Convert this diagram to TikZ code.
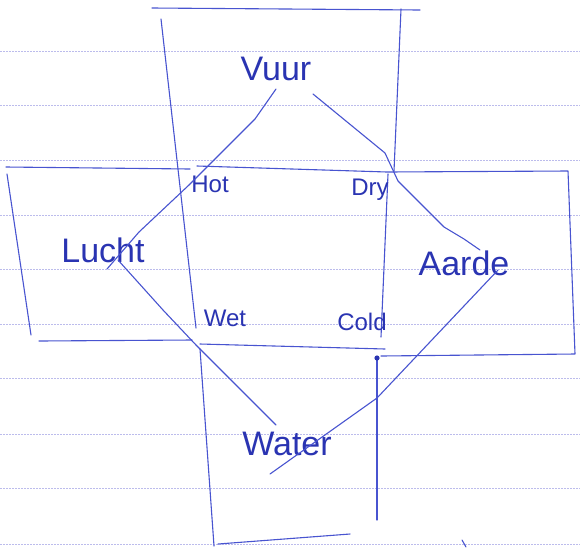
\documentclass[tikz,border=0pt]{standalone}
\usepackage{fontspec}
\setmainfont{Liberation Sans}
\definecolor{ink}{RGB}{72,84,208}
\definecolor{inkdark}{RGB}{42,52,178}
\definecolor{rulecol}{RGB}{188,188,236}
\begin{document}
\begin{tikzpicture}[x=1pt,y=-1pt,
  pen/.style={draw=ink,line width=1.1pt,line cap=round,line join=round},
  big/.style={text=inkdark,inner sep=0pt,anchor=base,font=\fontsize{34}{36}\selectfont},
  small/.style={text=inkdark,inner sep=0pt,anchor=base,font=\fontsize{24}{26}\selectfont},
  ruling/.style={draw=rulecol,line width=0.8pt,dash pattern=on 2pt off 1pt}]
\useasboundingbox (0,0) rectangle (580,547);
\fill[white] (0,0) rectangle (580,547);
% ruled paper
\foreach \yy in {51,105,160,215,269,324,378,434,488,544}
  \draw[ruling] (0,\yy) -- (580,\yy);
% boxes (hand-drawn cross)
\draw[pen] (152,8) -- (420,10);
\draw[pen] (161,19) -- (196,328);
\draw[pen] (401,9) -- (394,171);
\draw[pen] (6,167) -- (190,169);
\draw[pen] (197,166) -- (387,172) -- (568,171) -- (575,354) -- (381,356);
\draw[pen] (7,174) -- (31,335);
\draw[pen] (39,341) -- (192,340);
\draw[pen] (200,344) -- (385,349);
\draw[pen] (388,174) -- (381,337);
\draw[pen] (200,349) -- (214,546);
\draw[pen] (377,358) -- (377,520);
\fill[inkdark] (377,358) circle (2.6pt);
\draw[pen] (218,544) -- (350,534);
\draw[pen] (462,540) -- (466,547);
% labels
\node[big] (vuur) at (276,80) {Vuur};
\node[big] (lucht) at (103,262) {Lucht};
\node[big] (aarde) at (464,275) {Aarde};
\node[big] (water) at (287,455) {Water};
\node[small] (hot) at (210,192) {Hot};
\node[small] (dry) at (370,195) {Dry};
\node[small] (wet) at (225,326) {Wet};
\node[small] (cold) at (362,330) {Cold};
% connector ends
\coordinate (vuurL) at (276,89);
\coordinate (vuurR) at (313,94);
\coordinate (luchtT) at (107,269);
\coordinate (luchtB) at (118,260);
\coordinate (aardeT) at (480,250);
\coordinate (aardeB) at (498,270);
\coordinate (waterL) at (276,425);
\coordinate (waterR) at (270,474);
% diamond connectors
\draw[pen] (vuurL) -- (255,119) -- (189,185) -- (139,232) -- (luchtT);
\draw[pen] (vuurR) -- (385,153) -- (398,181) -- (444,227) -- (464,239) -- (aardeT);
\draw[pen] (luchtB) -- (163,310) -- (196,345) -- (waterL);
\draw[pen] (aardeB) -- (377,398) -- (waterR);
\end{tikzpicture}
\end{document}
